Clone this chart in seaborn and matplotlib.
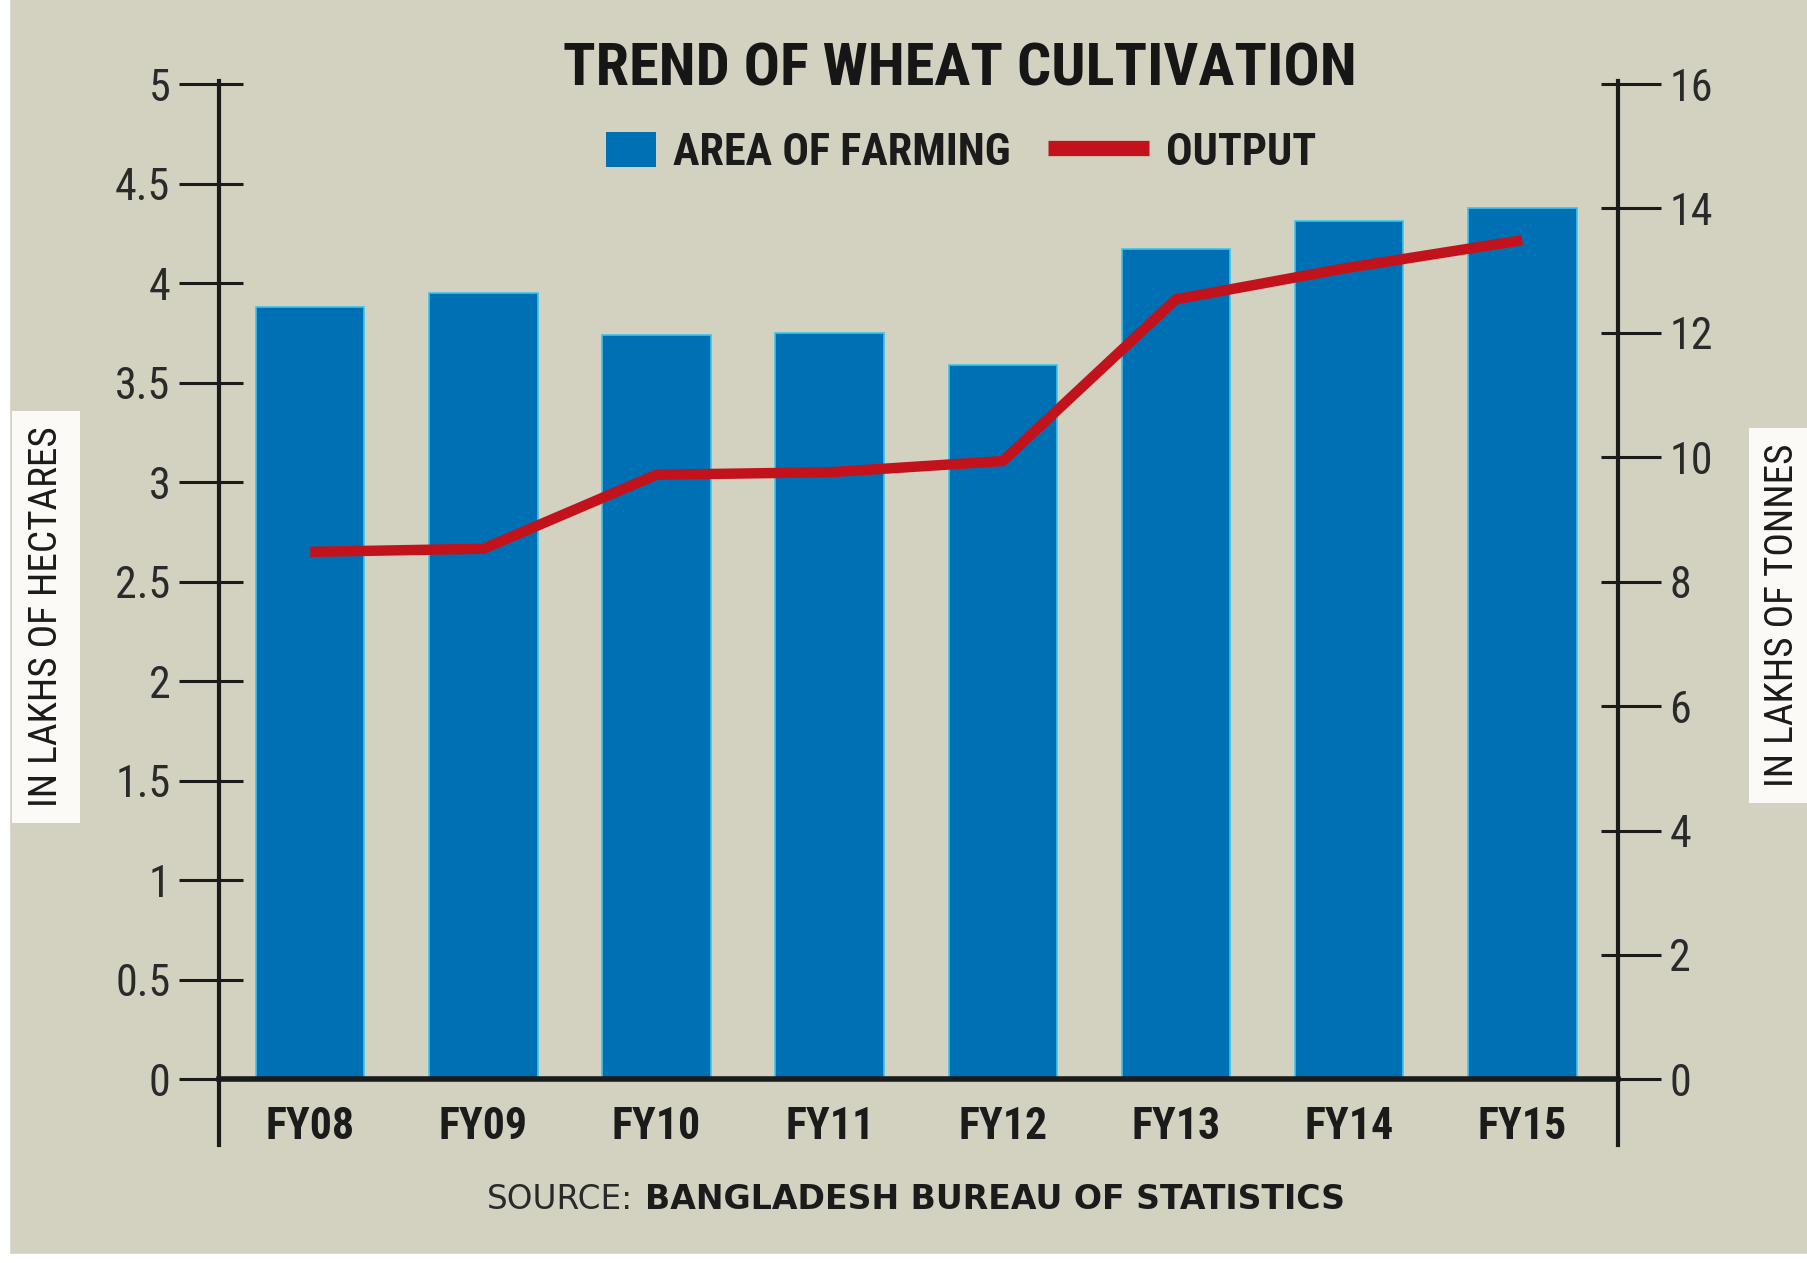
import os
import numpy as np
import pandas as pd
import matplotlib
matplotlib.use("Agg")
import matplotlib.pyplot as plt
import seaborn as sns
from matplotlib import font_manager
from matplotlib.font_manager import FontProperties
from matplotlib.patches import Patch, Rectangle
from matplotlib.lines import Line2D
from matplotlib.legend_handler import HandlerPatch
from matplotlib.ticker import FixedLocator

# ---------------- data ----------------
years = ["FY08", "FY09", "FY10", "FY11", "FY12", "FY13", "FY14", "FY15"]
area = [3.88, 3.95, 3.74, 3.75, 3.59, 4.17, 4.31, 4.38]          # lakh hectares
output = [8.48, 8.53, 9.72, 9.76, 9.94, 12.54, 13.05, 13.49]     # lakh tonnes
left_ticks = [0, 0.5, 1, 1.5, 2, 2.5, 3, 3.5, 4, 4.5, 5]
left_labels = ["0", "0.5", "1", "1.5", "2", "2.5", "3", "3.5", "4", "4.5", "5"]
right_ticks = [0, 2, 4, 6, 8, 10, 12, 14, 16]
right_labels = ["0", "2", "4", "6", "8", "10", "12", "14", "16"]
title = "TREND OF WHEAT CULTIVATION"
legend_labels = ["AREA OF FARMING", "OUTPUT"]
left_axis_label = "IN LAKHS OF HECTARES"
right_axis_label = "IN LAKHS OF TONNES"
source_prefix = "SOURCE:"
source_name = "BANGLADESH BUREAU OF STATISTICS"

# ---------------- style ----------------
BG = "#d3d1bf"
BLUE = "#0070b5"
EDGE = "#3cc3ee"
RED = "#c2131c"
INK = "#1b1b1b"

sns.set_style("white")
plt.rcParams["font.family"] = ["DejaVu Sans"]


def pick_font(bold):
    """Find a narrow / condensed font file if one is installed."""
    prefs = ["liberationsansnarrow", "robotocondensed", "opensans_condensed",
             "opensanscondensed", "opensans-cond", "notosans-condensed",
             "notosanscondensed", "dejavusanscondensed"]
    best = None
    for f in font_manager.fontManager.ttflist:
        fn = os.path.basename(f.fname).lower()
        key = fn.replace(" ", "")
        if "italic" in key or "oblique" in key:
            continue
        rank = None
        for i, p in enumerate(prefs):
            if key.startswith(p):
                rank = i
                break
        if rank is None:
            continue
        if "extra" in key or "semi" in key or "ultra" in key:
            continue
        is_bold = ("bold" in key) and not any(w in key for w in ["semibold", "extrabold", "demibold"])
        other = any(w in key for w in ["light", "thin", "medium", "black", "semibold",
                                       "extrabold", "demibold"])
        if bold and not is_bold:
            continue
        if not bold and (is_bold or other):
            continue
        if best is None or rank < best[0]:
            best = (rank, f.fname)
    if best is None:
        return FontProperties(family="DejaVu Sans", weight="bold" if bold else "normal")
    return FontProperties(fname=best[1])


FP_BOLD = pick_font(True)
FP_REG = pick_font(False)
FP_SRC = FontProperties(family="DejaVu Sans")
FP_SRC_BOLD = FontProperties(family="DejaVu Sans", weight="bold")

fig = plt.figure(figsize=(18.08, 12.63), dpi=100, facecolor=BG)
renderer = fig.canvas.get_renderer()
fig.add_artist(Rectangle((0, 0), 0.005, 1, transform=fig.transFigure, color="white", zorder=0))
fig.add_artist(Rectangle((0, 0), 1, 0.007, transform=fig.transFigure, color="white", zorder=0))


def fit_size(fp, text, target_px, max_pt):
    """Font size (pt) so that text is target_px wide, capped at max_pt."""
    t = fig.text(0, 0, text, fontproperties=fp, fontsize=40)
    w = t.get_window_extent(renderer).width
    t.remove()
    return min(max_pt, 40 * target_px / w)


ax = fig.add_axes([0.1211, 0.0934, 0.7738, 0.8427])
ax.set_facecolor("none")

df = pd.DataFrame({"year": years, "area": area, "output": output})
df["pos"] = np.arange(len(df))

sns.barplot(data=df, x="year", y="area", color=BLUE, saturation=1, width=0.627,
            edgecolor=EDGE, linewidth=1.2, ax=ax, zorder=2)

ax2 = ax.twinx()
sns.lineplot(data=df, x="pos", y="output", ax=ax2, color=RED, linewidth=7.5,
             solid_capstyle="butt", solid_joinstyle="miter", zorder=3)

ax.set_xlim(-0.527, 7.553)
ax.set_ylim(-0.33, 5.017)
ax2.set_ylim(-0.33 * 3.2, 5.017 * 3.2)

ax.set_xlabel("")
ax.set_ylabel("")
ax2.set_ylabel("")

# spines
for s in ["top", "right"]:
    ax.spines[s].set_visible(False)
for s in ["top", "left", "bottom"]:
    ax2.spines[s].set_visible(False)
ax.spines["left"].set_linewidth(3)
ax.spines["left"].set_color(INK)
ax.spines["bottom"].set_position(("data", 0))
ax.spines["bottom"].set_linewidth(4)
ax.spines["bottom"].set_color(INK)
ax.spines["bottom"].set_zorder(4)
ax2.spines["right"].set_linewidth(3)
ax2.spines["right"].set_color(INK)

# x ticks
xt_size = fit_size(FP_BOLD, "FY08", 89, 38)
ax.set_xticks(df["pos"], labels=years)
ax.tick_params(axis="x", length=0, pad=19, labelcolor=INK, bottom=True)
for lbl in ax.get_xticklabels():
    lbl.set_fontproperties(FP_BOLD)
    lbl.set_fontsize(xt_size)

# left y ticks
yt_size = fit_size(FP_REG, "4.5", 55, 33)
ax.set_yticks(left_ticks, labels=left_labels)
ax.tick_params(axis="y", which="major", direction="out", length=29, width=2.2,
               pad=6, color=INK, labelcolor="#2a2a2a", left=True)
ax.yaxis.set_minor_locator(FixedLocator(left_ticks))
ax.yaxis.remove_overlapping_locs = False
ax.tick_params(axis="y", which="minor", direction="in", length=17, width=2.2,
               color=INK, left=True)
for lbl in ax.get_yticklabels():
    lbl.set_fontproperties(FP_REG)
    lbl.set_fontsize(yt_size)

# right y ticks
ax2.set_yticks(right_ticks, labels=right_labels)
ax2.tick_params(axis="y", which="major", direction="out", length=31, width=2.2,
                pad=6, color=INK, labelcolor="#2a2a2a", right=True, left=False)
ax2.yaxis.set_minor_locator(FixedLocator(right_ticks))
ax2.yaxis.remove_overlapping_locs = False
ax2.tick_params(axis="y", which="minor", direction="in", length=12.5, width=2.2,
                color=INK, right=True, left=False)
for lbl in ax2.get_yticklabels():
    lbl.set_fontproperties(FP_REG)
    lbl.set_fontsize(yt_size)

# title
title_size = fit_size(FP_BOLD, title, 792, 55)
fig.text(0.531, 0.945, title, ha="center", va="center", fontproperties=FP_BOLD,
         fontsize=title_size, color="#161616")

# legend
def make_square(legend, orig_handle, xdescent, ydescent, width, height, fontsize):
    w = height * 1.43
    return Rectangle((width - w - xdescent, -ydescent), w, height)

leg_size = fit_size(FP_BOLD, legend_labels[0], 337, 40)
leg_fp = FP_BOLD.copy()
leg_fp.set_size(leg_size)
handles = [Patch(facecolor=BLUE, edgecolor="none"),
           Line2D([], [], color=RED, linewidth=11, solid_capstyle="butt")]
leg_px = leg_size * 100 / 72
fig.legend(handles, legend_labels, loc="center", bbox_to_anchor=(0.5175, 0.879),
           ncol=2, frameon=False, prop=leg_fp,
           handlelength=101 / leg_px, handleheight=37 / leg_px,
           handletextpad=17 / leg_px, columnspacing=37 / leg_px, labelcolor=INK,
           handler_map={Patch: HandlerPatch(patch_func=make_square)})

# axis labels in white boxes
lab_size = fit_size(FP_REG, left_axis_label, 380, 40)
fig.text(0.0255, 0.5115, left_axis_label, rotation=90, ha="center", va="center",
         fontproperties=FP_REG, fontsize=lab_size, color=INK,
         bbox=dict(boxstyle="square,pad=0.4", fc="#fbfaf6", ec="none"))
fig.text(0.986, 0.513, right_axis_label, rotation=90, ha="center", va="center",
         fontproperties=FP_REG, fontsize=lab_size, color=INK,
         bbox=dict(boxstyle="square,pad=0.4", fc="#fbfaf6", ec="none"))

# source
src_size = fit_size(FP_SRC, source_prefix, 146, 26)
srcb_size = fit_size(FP_SRC_BOLD, source_name, 700, 26)
fig.text(0.350, 0.050, source_prefix, ha="right", va="center", fontproperties=FP_SRC,
         fontsize=src_size, color="#2a2a2a")
fig.text(0.357, 0.050, source_name, ha="left", va="center", fontproperties=FP_SRC_BOLD,
         fontsize=srcb_size, color=INK)

fig.savefig("out.png", dpi=100, facecolor=fig.get_facecolor())
